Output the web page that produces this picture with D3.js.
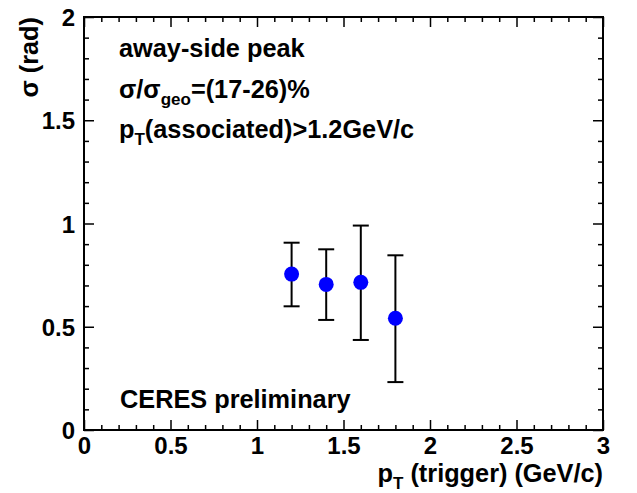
<!DOCTYPE html>
<html><head><meta charset="utf-8">
<script src="https://cdn.jsdelivr.net/npm/d3@7"></script>
<style>
body{margin:0;background:#fff}
text{font-family:"Liberation Sans",Arial,Helvetica,sans-serif;font-weight:bold;fill:#000}
</style></head>
<body><svg id="c" width="637" height="493"></svg>
<script>
const ptTrigger = [1.2, 1.4, 1.6, 1.8];
const sigma     = [0.755, 0.705, 0.715, 0.541];
const errLow    = [0.599, 0.533, 0.436, 0.232];
const errHigh   = [0.907, 0.875, 0.99, 0.846];
const xMajorTicks = [0, 0.5, 1, 1.5, 2, 2.5, 3];
const yMajorTicks = [0, 0.5, 1, 1.5, 2];
const xTickLabels = ["0", "0.5", "1", "1.5", "2", "2.5", "3"];
const yTickLabels = ["0", "0.5", "1", "1.5", "2"];

const svg = d3.select("#c");
const L = 84, R = 603, T = 17, B = 430;
const x = d3.scaleLinear().domain([0, 3]).range([L, R]);
const y = d3.scaleLinear().domain([0, 2]).range([B, T]);

const xMinor = d3.range(0, 3.0001, 0.1).map(v => +v.toFixed(2)).filter(v => !xMajorTicks.includes(v));
const yMinor = d3.range(0, 2.0001, 0.1).map(v => +v.toFixed(2)).filter(v => !yMajorTicks.includes(v));

function style(g){ g.select(".domain").remove(); g.selectAll("line").attr("stroke","#000").attr("stroke-width",1.5); }

const tickFs = 24;
// bottom axis
svg.append("g").attr("transform",`translate(0,${B})`)
  .call(d3.axisBottom(x).tickValues(xMajorTicks).tickSize(-10).tickFormat((d,i)=>xTickLabels[i]))
  .call(style).call(g=>g.selectAll("text").attr("font-size",tickFs).attr("dy","0.71em").attr("y",7));
svg.append("g").attr("transform",`translate(0,${B})`)
  .call(d3.axisBottom(x).tickValues(xMinor).tickSize(-5).tickFormat(""))
  .call(style);
// top axis
svg.append("g").attr("transform",`translate(0,${T})`)
  .call(d3.axisTop(x).tickValues(xMajorTicks).tickSize(-10).tickFormat(""))
  .call(style);
svg.append("g").attr("transform",`translate(0,${T})`)
  .call(d3.axisTop(x).tickValues(xMinor).tickSize(-5).tickFormat(""))
  .call(style);
// left axis
svg.append("g").attr("transform",`translate(${L},0)`)
  .call(d3.axisLeft(y).tickValues(yMajorTicks).tickSize(-10).tickFormat((d,i)=>yTickLabels[i]))
  .call(style).call(g=>g.selectAll("text").attr("font-size",tickFs).attr("x",-9).attr("dy","0.36em"));
svg.append("g").attr("transform",`translate(${L},0)`)
  .call(d3.axisLeft(y).tickValues(yMinor).tickSize(-5).tickFormat(""))
  .call(style);
// right axis
svg.append("g").attr("transform",`translate(${R},0)`)
  .call(d3.axisRight(y).tickValues(yMajorTicks).tickSize(-10).tickFormat(""))
  .call(style);
svg.append("g").attr("transform",`translate(${R},0)`)
  .call(d3.axisRight(y).tickValues(yMinor).tickSize(-5).tickFormat(""))
  .call(style);

// frame
svg.append("rect").attr("x",L).attr("y",T).attr("width",R-L).attr("height",B-T)
  .attr("fill","none").attr("stroke","#000").attr("stroke-width",2);

// error bars
const eg = svg.append("g").attr("stroke","#000").attr("stroke-width",2);
ptTrigger.forEach((p,i)=>{
  eg.append("line").attr("x1",x(p)).attr("x2",x(p)).attr("y1",y(errLow[i])).attr("y2",y(errHigh[i]));
  eg.append("line").attr("x1",x(p)-8).attr("x2",x(p)+8).attr("y1",y(errLow[i])).attr("y2",y(errLow[i]));
  eg.append("line").attr("x1",x(p)-8).attr("x2",x(p)+8).attr("y1",y(errHigh[i])).attr("y2",y(errHigh[i]));
});
svg.append("g").selectAll("circle").data(ptTrigger).join("circle")
  .attr("cx",d=>x(d)).attr("cy",(d,i)=>y(sigma[i])).attr("r",7.5).attr("fill","#0000ff");

// texts
const fs = 25.3, sub = 17;
svg.append("text").attr("x",119).attr("y",57).attr("font-size",fs).text("away-side peak");
const t2 = svg.append("text").attr("x",119).attr("y",98).attr("font-size",fs);
t2.append("tspan").text("σ/σ");
t2.append("tspan").attr("font-size",sub).attr("dy",7).text("geo");
t2.append("tspan").attr("dy",-7).text("=(17-26)%");
const t3 = svg.append("text").attr("x",119).attr("y",138).attr("font-size",fs);
t3.append("tspan").text("p");
t3.append("tspan").attr("font-size",sub).attr("dy",7).text("T");
t3.append("tspan").attr("dy",-7).text("(associated)>1.2GeV/c");
svg.append("text").attr("x",120).attr("y",408).attr("font-size",fs).text("CERES preliminary");

// axis titles
const xt = svg.append("text").attr("x",R).attr("y",482).attr("text-anchor","end").attr("font-size",25.3);
xt.append("tspan").text("p");
xt.append("tspan").attr("font-size",sub).attr("dy",7).text("T");
xt.append("tspan").attr("dy",-7).text(" (trigger) (GeV/c)");
svg.append("text").attr("transform",`translate(38,${T}) rotate(-90)`).attr("text-anchor","end")
  .attr("font-size",25.3).text("σ (rad)");
</script></body></html>
